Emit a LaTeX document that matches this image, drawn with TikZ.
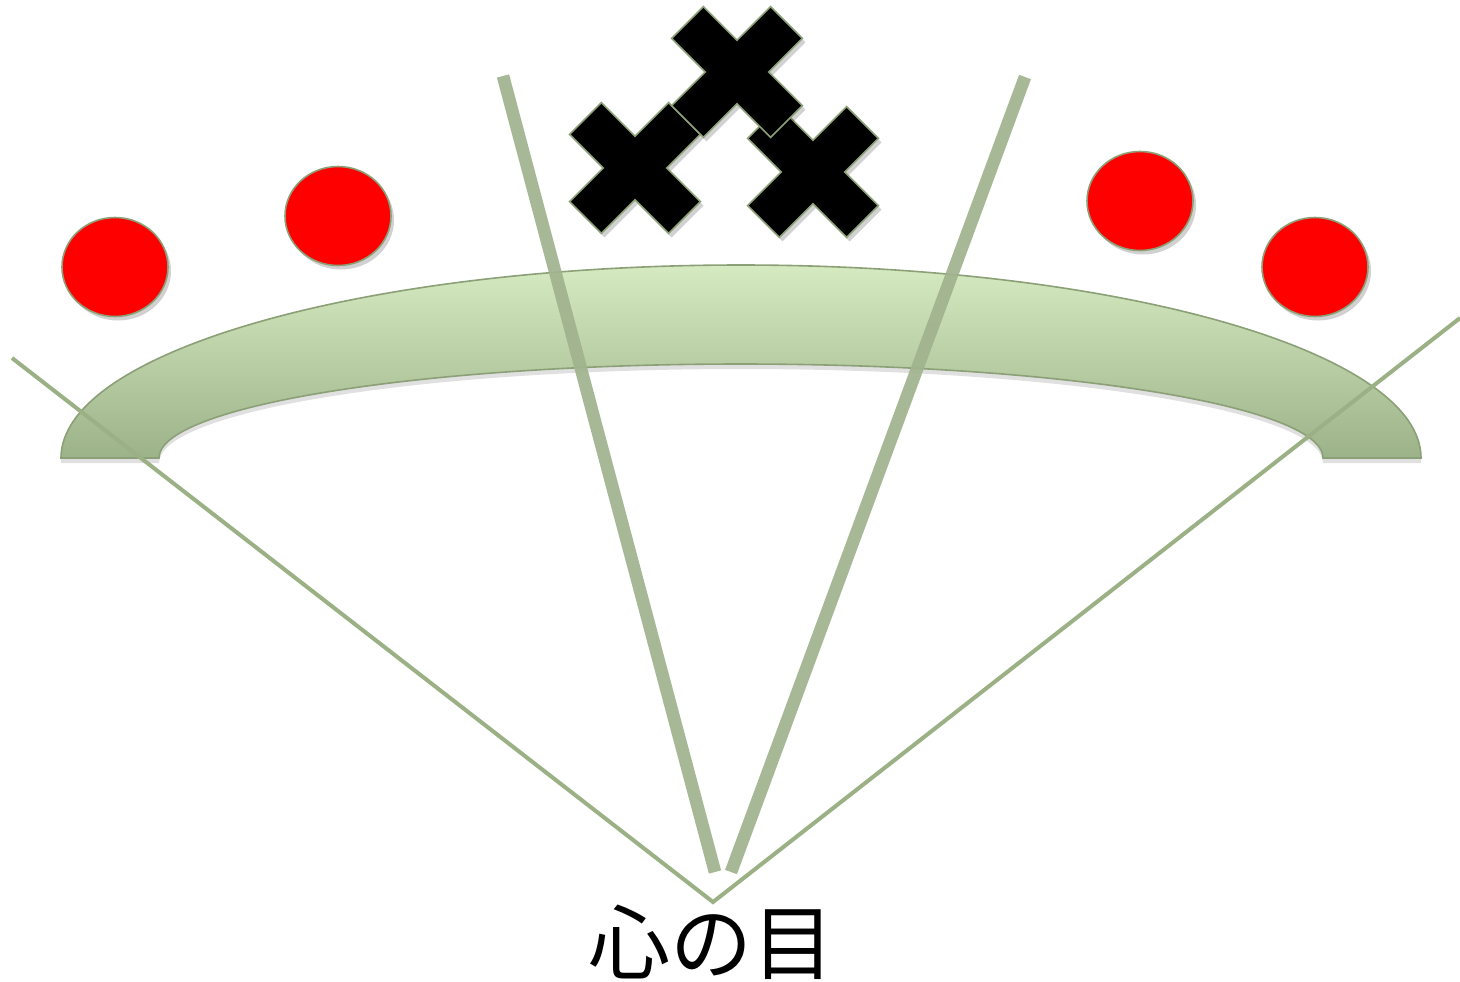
\documentclass[tikz,border=0pt]{standalone}
\usepackage{fontspec}
\newfontfamily\jpfont{Noto Sans CJK JP}
\definecolor{bandtop}{RGB}{214,234,194}
\definecolor{bandmid}{RGB}{200,222,178}
\definecolor{bandbot}{RGB}{156,178,136}
\definecolor{edgegreen}{RGB}{140,160,120}
\definecolor{thickgreen}{RGB}{160,179,142}
\definecolor{thingreen}{RGB}{155,176,132}
\begin{document}
\begin{tikzpicture}[x=0.5pt,y=-0.5pt,
  outline/.style={draw=edgegreen,line width=0.8pt},
  shadowfill/.style={fill=black,opacity=0.18},
  thickline/.style={draw=thickgreen,line width=6.3pt,line cap=butt,opacity=0.92},
  thinline/.style={draw=thingreen,line width=2pt},
  reddot/.style={fill=red,outline},
  xcross/.pic={
    \fill[shadowfill,shift={(3,4)},rotate=45] (-22.5,70) -- (22.5,70) -- (22.5,22.5) -- (70,22.5) -- (70,-22.5) -- (22.5,-22.5) -- (22.5,-70) -- (-22.5,-70) -- (-22.5,-22.5) -- (-70,-22.5) -- (-70,22.5) -- (-22.5,22.5) -- cycle;
    \fill[black,outline,rotate=45] (-22.5,70) -- (22.5,70) -- (22.5,22.5) -- (70,22.5) -- (70,-22.5) -- (22.5,-22.5) -- (22.5,-70) -- (-22.5,-70) -- (-22.5,-22.5) -- (-70,-22.5) -- (-70,22.5) -- (-22.5,22.5) -- cycle;
  }]
\useasboundingbox (0,0) rectangle (1460,981);
\fill[white] (0,0) rectangle (1460,981);

% band shadow
\fill[shadowfill,opacity=0.12] (61,463) arc[start angle=180,end angle=360,x radius=680,y radius=193]
  -- (1323,463) arc[start angle=360,end angle=180,x radius=582,y radius=94] -- cycle;
% band
\path[top color=bandtop,middle color=bandmid,bottom color=bandbot,outline]
  (61,458) arc[start angle=180,end angle=360,x radius=680,y radius=193]
  -- (1323,458) arc[start angle=360,end angle=180,x radius=582,y radius=94] -- cycle;

% red dots
\foreach \cx/\cy in {115/267,338/216,1140/201,1315/267}{
  \fill[shadowfill] (\cx+3,\cy+4) ellipse[x radius=53,y radius=49.5];
  \path[reddot] (\cx,\cy) ellipse[x radius=53,y radius=49.5];
}

% crosses
\pic at (635,168) {xcross};
\pic at (813,172) {xcross};
\pic at (737,72) {xcross};

% eye label and rays
\node[font=\jpfont\fontsize{41}{41}\selectfont,inner sep=0pt] (eye) at (711,942) {心の目};
\coordinate (apex) at (713,902);
\coordinate (thinL) at (12,358);
\coordinate (thinR) at (1460,318);
\coordinate (thickLtop) at (503,76);
\coordinate (thickLbot) at (715,872);
\coordinate (thickRtop) at (1025,77);
\coordinate (thickRbot) at (731,872);
\draw[thinline] (thinL) -- (apex) -- (thinR);
\draw[thickline] (thickLtop) -- (thickLbot);
\draw[thickline] (thickRtop) -- (thickRbot);
\end{tikzpicture}
\end{document}
